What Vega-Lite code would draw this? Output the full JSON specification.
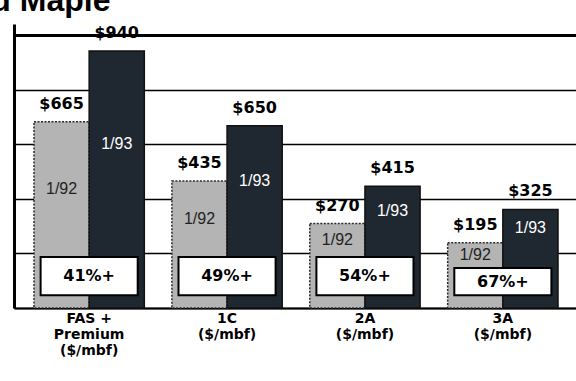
{
  "$schema": "https://vega.github.io/schema/vega-lite/v6.json",
  "autosize": "none",
  "width": 564,
  "height": 284,
  "padding": {"left": 14, "top": 24, "right": 0, "bottom": 73},
  "background": "white",
  "title": {"text": "Hard Maple", "anchor": "start", "frame": "group", "font": "Liberation Sans", "fontSize": 32, "fontWeight": "bold", "color": "black", "baseline": "alphabetic", "offset": 0, "dx": -76, "dy": 19},
  "config": {"view": {"stroke": null}, "font": "DejaVu Sans"},
  "data": {"values": [
    {"grade": "FAS +|Premium|($/mbf)", "1/92": 665, "1/93": 940, "pct": "41%+"},
    {"grade": "1C|($/mbf)", "1/92": 435, "1/93": 650, "pct": "49%+"},
    {"grade": "2A|($/mbf)", "1/92": 270, "1/93": 415, "pct": "54%+"},
    {"grade": "3A|($/mbf)", "1/92": 195, "1/93": 325, "pct": "67%+"}
  ]},
  "transform": [{"calculate": "min(datum['1/92'] - 98, 140)", "as": "boxTop"}],
  "encoding": {
    "x": {
      "field": "grade", "type": "nominal", "title": null,
      "scale": {"domain": ["FAS +|Premium|($/mbf)", "1C|($/mbf)", "2A|($/mbf)", "3A|($/mbf)"], "paddingInner": 0.2, "paddingOuter": 0.145},
      "axis": {"labelAngle": 0, "labelExpr": "split(datum.label, '|')", "labelFont": "DejaVu Sans", "labelFontSize": 14, "labelFontWeight": "bold", "labelColor": "black", "labelLineHeight": 16, "labelPadding": 3, "ticks": false, "domainColor": "black", "domainWidth": 2}
    }
  },
  "layer": [
    {
      "transform": [{"fold": ["1/92", "1/93"], "as": ["year", "value"]}],
      "mark": {"type": "bar", "strokeWidth": 1.5},
      "encoding": {
        "xOffset": {"field": "year", "type": "nominal", "scale": {"paddingInner": 0}},
        "y": {"field": "value", "type": "quantitative", "title": null,
          "scale": {"domain": [-58, 1045], "nice": false, "zero": false},
          "axis": {"values": [-58, 154, 366, 578, 790, 1002], "labels": false, "ticks": false, "domainColor": "black", "domainWidth": 3, "gridColor": "black", "gridWidth": {"condition": {"test": "datum.value > 1000", "value": 3}, "value": 1.5}}},
        "y2": {"datum": -58},
        "fill": {"field": "year", "type": "nominal", "legend": null, "scale": {"domain": ["1/92", "1/93"], "range": ["#b4b4b4", "#1f2831"]}},
        "stroke": {"field": "year", "type": "nominal", "legend": null, "scale": {"domain": ["1/92", "1/93"], "range": ["#2a2a2a", "#111111"]}},
        "strokeDash": {"field": "year", "type": "nominal", "legend": null, "scale": {"domain": ["1/92", "1/93"], "range": [[2, 1.5], [1, 0]]}}
      }
    },
    {
      "transform": [{"fold": ["1/92", "1/93"], "as": ["year", "value"]}],
      "mark": {"type": "text", "baseline": "bottom", "dy": -10, "fontSize": 16, "fontWeight": "bold", "font": "DejaVu Sans", "color": "black"},
      "encoding": {
        "xOffset": {"field": "year", "type": "nominal", "scale": {"paddingInner": 0}},
        "y": {"field": "value", "type": "quantitative"},
        "text": {"field": "value", "type": "quantitative", "format": "$d"}
      }
    },
    {
      "transform": [
        {"fold": ["1/92", "1/93"], "as": ["year", "value"]},
        {"calculate": "(datum.value + datum.boxTop) / 2 + (datum.year === '1/93' ? 40 : 0)", "as": "labelPos"}
      ],
      "mark": {"type": "text", "baseline": "middle", "fontSize": 16, "font": "Liberation Sans"},
      "encoding": {
        "xOffset": {"field": "year", "type": "nominal", "scale": {"paddingInner": 0}},
        "y": {"field": "labelPos", "type": "quantitative"},
        "text": {"field": "year", "type": "nominal"},
        "color": {"field": "year", "type": "nominal", "legend": null, "scale": {"domain": ["1/92", "1/93"], "range": ["#222222", "#ffffff"]}}
      }
    },
    {
      "mark": {"type": "bar", "fill": "white", "stroke": "black", "strokeWidth": 2, "width": {"band": 0.88}},
      "encoding": {
        "y": {"field": "boxTop", "type": "quantitative"},
        "y2": {"datum": -8}
      }
    },
    {
      "transform": [{"calculate": "(datum.boxTop - 8) / 2", "as": "pctPos"}],
      "mark": {"type": "text", "baseline": "middle", "fontSize": 16, "fontWeight": "bold", "font": "DejaVu Sans", "color": "black"},
      "encoding": {
        "y": {"field": "pctPos", "type": "quantitative"},
        "text": {"field": "pct", "type": "nominal"}
      }
    }
  ]
}
